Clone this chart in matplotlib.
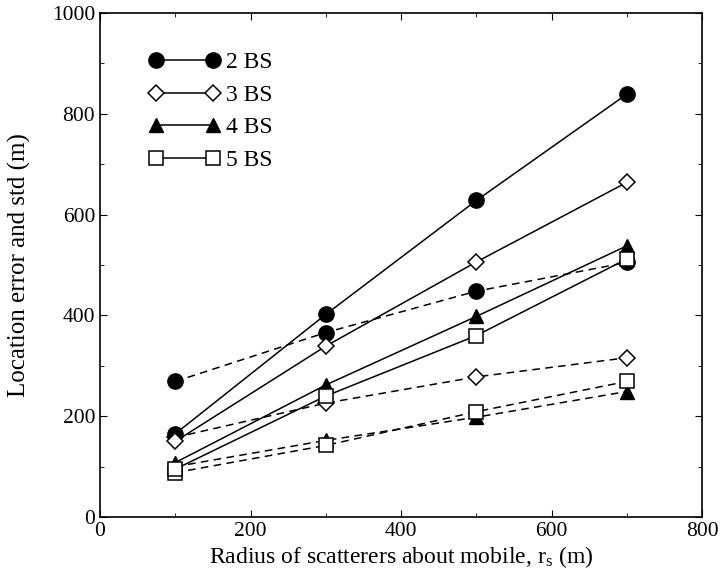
import matplotlib
matplotlib.use("Agg")
import matplotlib.pyplot as plt
from matplotlib.ticker import MultipleLocator

plt.rcParams['font.family'] = ['Liberation Serif', 'DejaVu Serif']
plt.rcParams['mathtext.fontset'] = 'stix'

radius = [100, 300, 500, 700]
series_names = ["2 BS", "3 BS", "4 BS", "5 BS"]

# mean location error (solid) and standard deviation (dashed)
error_2bs = [165, 402, 628, 839]
error_3bs = [150, 339, 506, 664]
error_4bs = [108, 262, 398, 538]
error_5bs = [95, 240, 360, 512]

std_2bs = [269, 366, 448, 505]
std_3bs = [158, 226, 278, 316]
std_4bs = [100, 152, 198, 249]
std_5bs = [88, 142, 209, 269]

errors = [error_2bs, error_3bs, error_4bs, error_5bs]
stds = [std_2bs, std_3bs, std_4bs, std_5bs]

styles = [
    dict(marker='o', mfc='black', mec='black', ms=11),
    dict(marker='D', mfc='white', mec='black', ms=7.8, mew=1.1),
    dict(marker='^', mfc='black', mec='black', ms=10.5),
    dict(marker='s', mfc='white', mec='black', ms=10, mew=1.1),
]

fig = plt.figure(figsize=(7.22, 5.80), dpi=100)
ax = fig.add_axes([0.1385, 0.1086, 0.834, 0.869])

for name, err, sd, st in zip(series_names, errors, stds, styles):
    ax.plot(radius, sd, color='black', lw=1.1, ls=(0, (5, 3.5)), zorder=2, **st)
    ax.plot(radius, err, color='black', lw=1.1, ls='-', label=name, zorder=3, **st)

ax.set_xlim(0, 800)
ax.set_ylim(0, 1000)
ax.xaxis.set_major_locator(MultipleLocator(200))
ax.xaxis.set_minor_locator(MultipleLocator(100))
ax.yaxis.set_major_locator(MultipleLocator(200))
ax.yaxis.set_minor_locator(MultipleLocator(100))
ax.tick_params(which='both', direction='in', top=True, right=True, labelsize=15.5)
ax.tick_params(which='major', length=5)
ax.tick_params(which='minor', length=3)
for sp in ax.spines.values():
    sp.set_linewidth(1.2)

ax.set_xlabel(r"Radius of scatterers about mobile, r$_\mathregular{s}$ (m)", fontsize=17, labelpad=2)
ax.set_ylabel("Location error and std (m)", fontsize=18)
ax.yaxis.set_label_coords(-0.115, 0.5)

leg = ax.legend(loc='upper left', bbox_to_anchor=(0.066, 0.942), frameon=False,
                numpoints=2, handlelength=3.0, handletextpad=0.25,
                labelspacing=0.47, fontsize=17, borderaxespad=0)

fig.savefig("out.png", dpi=100)
